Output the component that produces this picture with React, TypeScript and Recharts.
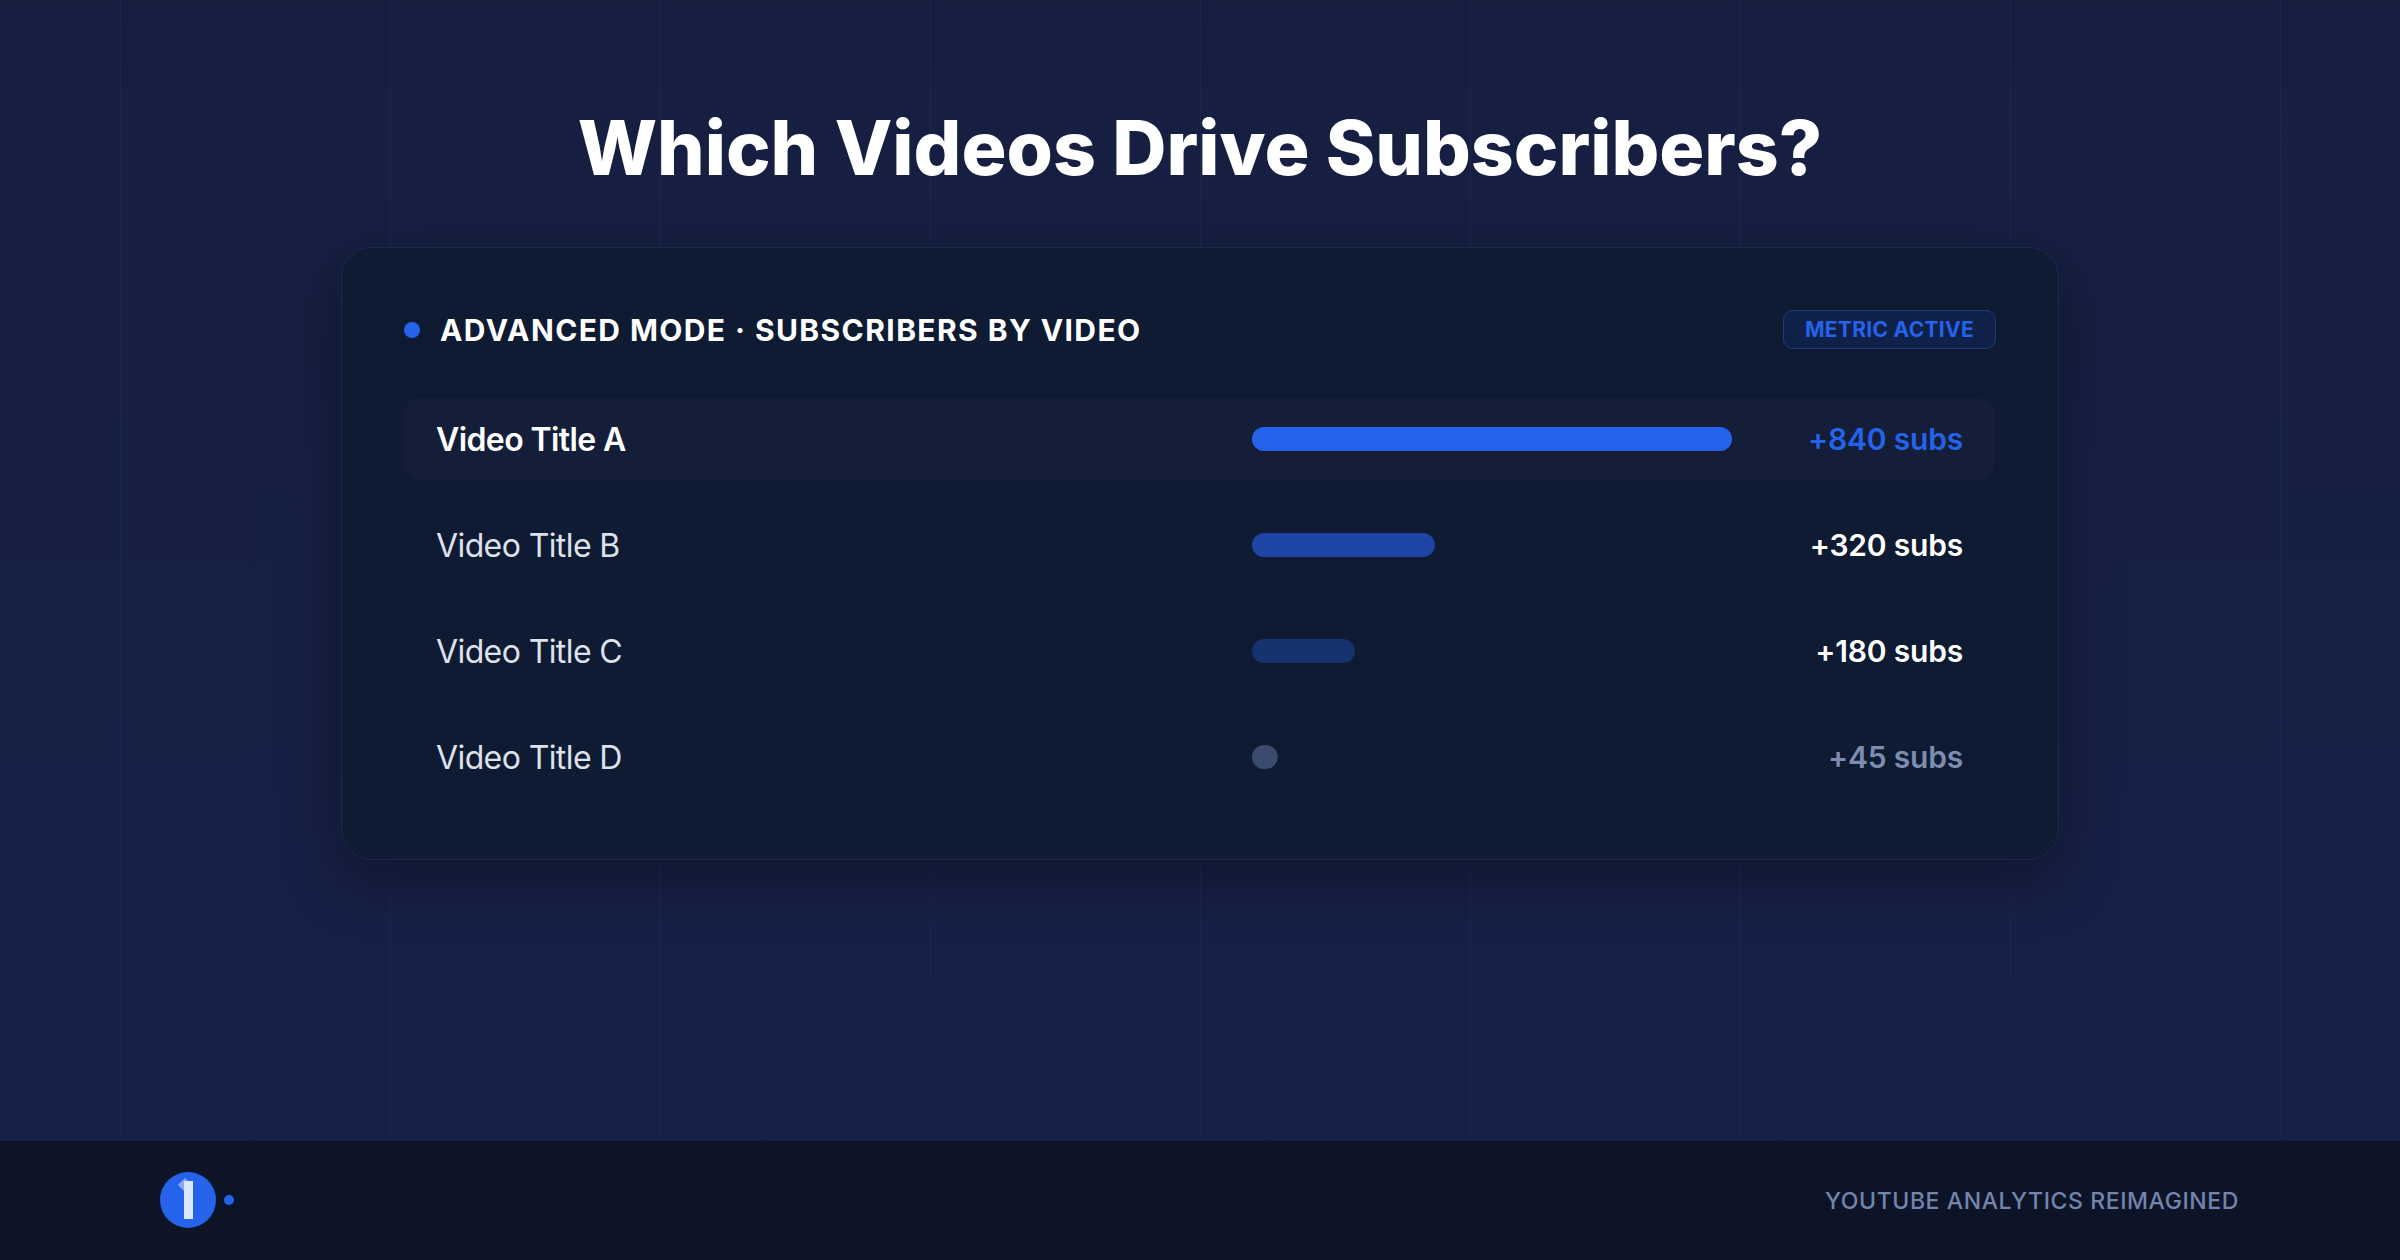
import { BarChart, Bar, XAxis, YAxis, Cell, LabelList } from 'recharts';

const VIDEOS = ['Video Title A', 'Video Title B', 'Video Title C', 'Video Title D'];
const SUBS = [840, 320, 180, 45];
const VALUE_LABELS = ['+840 subs', '+320 subs', '+180 subs', '+45 subs'];
const BAR_COLORS = ['#2563eb', '#1e45a6', '#17336f', '#3b4b6d'];
const VALUE_COLORS = ['#2563eb', '#ffffff', '#ffffff', '#7d8db0'];
const SUBS_MAX = 840;

const FONT = 'Inter, "Noto Sans", sans-serif';
const CHART_W = 1591;
const CHART_H = 424;
const GRID_X = [120, 390, 660, 930, 1200, 1470, 1740, 2010, 2280];

const rows = VIDEOS.map((name, i) => ({ name, subs: SUBS[i], label: VALUE_LABELS[i] }));

function VideoTick(props: any) {
  const { y, payload, index } = props;
  const first = index === 0;
  return (
    <text
      x={32}
      y={y}
      dominantBaseline="central"
      fill={first ? '#ffffff' : '#dce1ea'}
      fontFamily={FONT}
      fontSize={32}
      fontWeight={first ? 600 : 400}
      letterSpacing={-0.6}
    >
      {payload.value}
    </text>
  );
}

function ValueLabel(props: any) {
  const { y, height, index, value } = props;
  return (
    <text
      x={CHART_W - 32}
      y={Number(y) + Number(height) / 2}
      textAnchor="end"
      dominantBaseline="central"
      fill={VALUE_COLORS[index]}
      fontFamily={FONT}
      fontSize={30}
      fontWeight={600}
      letterSpacing={-0.2}
    >
      {value}
    </text>
  );
}

export default function App() {
  return (
    <div
      style={{
        position: 'absolute',
        left: 0,
        top: 0,
        width: 2400,
        height: 1260,
        overflow: 'hidden',
        background: 'linear-gradient(180deg, #161f40 0%, #172149 100%)',
        fontFamily: FONT,
      }}
    >
      {GRID_X.map((x) => (
        <div key={x} style={{ position: 'absolute', left: x, top: 0, width: 1, height: 1140, background: '#1a2650' }} />
      ))}

      <div
        style={{
          position: 'absolute',
          left: 0,
          width: 2400,
          top: 103,
          textAlign: 'center',
          color: '#ffffff',
          fontSize: 75,
          fontWeight: 800,
          letterSpacing: 0,
          lineHeight: '90px',
        }}
      >
        Which Videos Drive Subscribers?
      </div>

      {/* card */}
      <div
        style={{
          position: 'absolute',
          left: 341,
          top: 247,
          width: 1716,
          height: 611,
          borderRadius: 30,
          background: '#0f1a33',
          border: '1px solid #1a2a52',
          boxShadow: '0 20px 60px rgba(0,0,0,0.35)',
        }}
      />

      <div style={{ position: 'absolute', left: 404, top: 322, width: 16, height: 16, borderRadius: 8, background: '#2563eb' }} />
      <div
        style={{
          position: 'absolute',
          left: 440,
          top: 310,
          color: '#ffffff',
          fontSize: 30,
          fontWeight: 700,
          lineHeight: '40px',
          letterSpacing: 1.4,
        }}
      >
        ADVANCED MODE · SUBSCRIBERS BY VIDEO
      </div>

      <div
        style={{
          position: 'absolute',
          left: 1783,
          top: 310,
          width: 211,
          height: 37,
          borderRadius: 10,
          background: '#0f2149',
          border: '1px solid #1d3a7a',
          color: '#2563eb',
          fontSize: 21,
          fontWeight: 700,
          lineHeight: '37px',
          textAlign: 'center',
          letterSpacing: 0.3,
        }}
      >
        METRIC ACTIVE
      </div>

      {/* highlighted first row */}
      <div style={{ position: 'absolute', left: 404, top: 398, width: 1591, height: 82, borderRadius: 16, background: '#141e38' }} />

      <div style={{ position: 'absolute', left: 404, top: 386 }}>
        <BarChart
          width={CHART_W}
          height={CHART_H}
          data={rows}
          layout="vertical"
          margin={{ top: 0, right: 263, bottom: 0, left: 0 }}
        >
          <XAxis type="number" domain={[0, SUBS_MAX]} hide />
          <YAxis
            type="category"
            dataKey="name"
            width={848}
            axisLine={false}
            tickLine={false}
            tick={<VideoTick />}
            interval={0}
          />
          <Bar dataKey="subs" barSize={24} radius={12} isAnimationActive={false}>
            {rows.map((r, i) => (
              <Cell key={r.name} fill={BAR_COLORS[i]} />
            ))}
            <LabelList dataKey="label" content={<ValueLabel />} />
          </Bar>
        </BarChart>
      </div>

      {/* footer */}
      <div style={{ position: 'absolute', left: 0, top: 1140, width: 2400, height: 120, background: '#0e1428', borderTop: '1px solid #141d38' }} />
      <svg style={{ position: 'absolute', left: 150, top: 1165 }} width={100} height={70}>
        <circle cx={38} cy={35} r={28} fill="#2563eb" />
        <rect x={34} y={16} width={9} height={38} fill="#dbe6ff" />
        <rect x={30} y={15} width={10} height={10} fill="#dbe6ff" opacity={0.55} transform="rotate(45 35 20)" />
        <circle cx={79} cy={35} r={5} fill="#2563eb" />
      </svg>
      <div
        style={{
          position: 'absolute',
          right: 161,
          top: 1186,
          color: '#7385ab',
          fontSize: 23,
          fontWeight: 500,
          lineHeight: '30px',
          letterSpacing: 0.6,
        }}
      >
        YOUTUBE ANALYTICS REIMAGINED
      </div>
    </div>
  );
}
